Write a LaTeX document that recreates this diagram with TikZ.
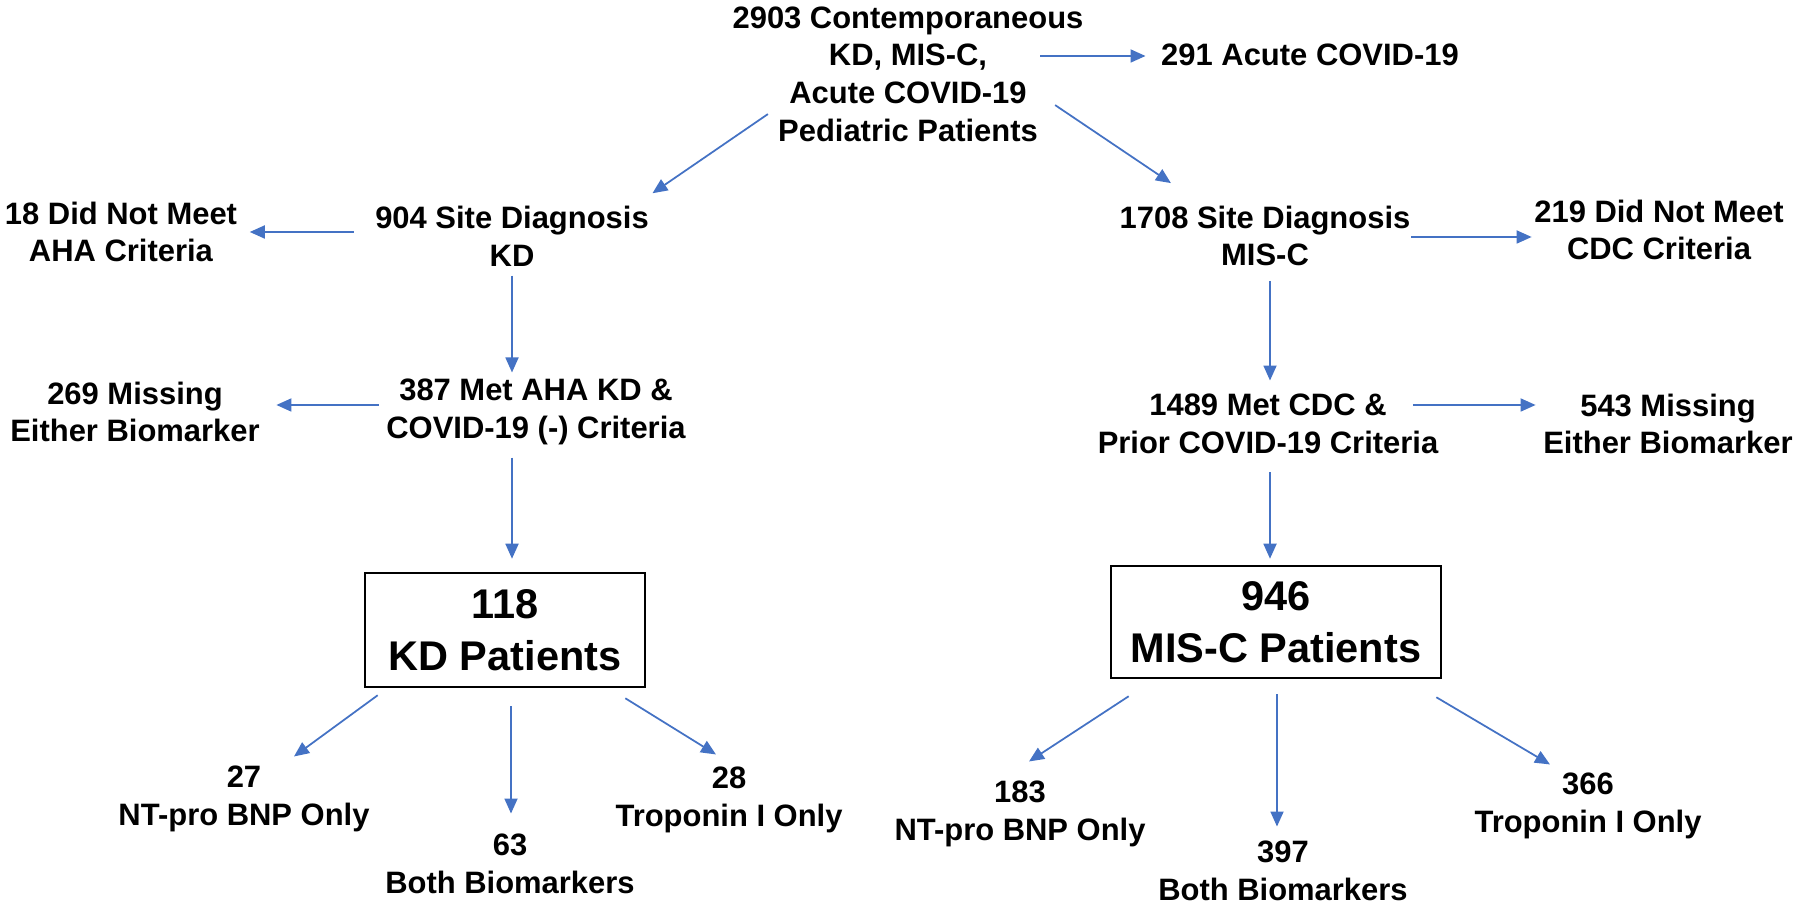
\documentclass[tikz,border=0pt]{standalone}
\usepackage{fontspec}
\setmainfont{Liberation Sans}
\usepackage{xcolor}
\usepackage{tikz}
\usetikzlibrary{arrows.meta}
\definecolor{arrblue}{RGB}{68,114,196}

\tikzset{
	txt/.style={align=center, inner sep=0pt, font=\bfseries\fontsize{8.8}{10.7}\selectfont},
	bigbox/.style={draw, line width=0.7pt, align=center, inner sep=0pt, font=\bfseries\fontsize{11.8}{14.8}\selectfont},
	arr/.style={draw=arrblue, line width=0.5pt, -{Triangle[length=0.15cm,width=0.13cm]}}
}

\begin{document}
\begin{tikzpicture}[x=0.01cm,y=-0.01cm]
	\useasboundingbox (0,0) rectangle (1800,907);
	
	% top
	\node[txt] (top) at (908,74) {2903 Contemporaneous\\KD, MIS-C,\\Acute COVID-19\\Pediatric Patients};
	\node[txt] (acute) at (1310,55) {291 Acute COVID-19};
	
	% KD branch
	\node[txt] (kd) at (512,236) {904 Site Diagnosis\\KD};
	\node[txt] (kdno) at (121,232) {18 Did Not Meet\\AHA Criteria};
	\node[txt] (kdmet) at (536,412) {387 Met AHA KD \&\\COVID-19 (-) Criteria};
	\node[txt] (kdmiss) at (135,412) {269 Missing\\Either Biomarker};
	\node[bigbox, minimum width=2.8cm, minimum height=1.14cm] (kdbox) at (505,630) {118\\KD Patients};
	\node[txt] (kdnt) at (244,799) {27\\NT-pro BNP Only};
	\node[txt] (kdboth) at (510,864) {63\\Both Biomarkers};
	\node[txt] (kdtro) at (729,800) {28\\Troponin I Only};
	
	% MIS-C branch
	\node[txt] (misc) at (1265,236) {1708 Site Diagnosis\\MIS-C};
	\node[txt] (misno) at (1659,230) {219 Did Not Meet\\CDC Criteria};
	\node[txt] (mismet) at (1268,424) {1489 Met CDC \&\\Prior COVID-19 Criteria};
	\node[txt] (mismiss) at (1668,424) {543 Missing\\Either Biomarker};
	\node[bigbox, minimum width=3.3cm, minimum height=1.12cm] (misbox) at (1276,622) {946\\MIS-C Patients};
	\node[txt] (misnt) at (1020,814) {183\\NT-pro BNP Only};
	\node[txt] (misboth) at (1283,871) {397\\Both Biomarkers};
	\node[txt] (mistro) at (1588,806) {366\\Troponin I Only};
	
	% arrows from the top
	\draw[arr] ([shift={(-44,-18)}]top.east) -- ([shift={(-15,1)}]acute.west);
	\draw[arr] ([shift={(36,-28)}]top.south west) -- ([shift={(3,-12)}]kd.north east);
	\draw[arr] ([shift={(-29,-37)}]top.south east) -- ([shift={(52,-22)}]misc.north west);
	
	% KD arrows
	\draw[arr] ([shift={(-21,-4)}]kd.west) -- ([shift={(12,0)}]kdno.east);
	\draw[arr] ([shift={(0,9)}]kd.south) -- ([shift={(-24,-6)}]kdmet.north);
	\draw[arr] ([shift={(-7,-7)}]kdmet.west) -- ([shift={(16,-7)}]kdmiss.east);
	\draw[arr] ([shift={(-24,12)}]kdmet.south) -- ([shift={(7,-13)}]kdbox.north);
	\draw[arr] ([shift={(14,7)}]kdbox.south west) -- ([shift={(50,-9)}]kdnt.north);
	\draw[arr] ([shift={(6,18)}]kdbox.south) -- ([shift={(1,-20)}]kdboth.north);
	\draw[arr] ([shift={(-21,10)}]kdbox.south east) -- ([shift={(-13,-12)}]kdtro.north);
	
	% MIS-C arrows
	\draw[arr] ([shift={(0,1)}]misc.east) -- ([shift={(-2,7)}]misno.west);
	\draw[arr] ([shift={(5,14)}]misc.south) -- ([shift={(2,-13)}]mismet.north);
	\draw[arr] ([shift={(-26,-19)}]mismet.east) -- ([shift={(-7,-19)}]mismiss.west);
	\draw[arr] ([shift={(2,18)}]mismet.south) -- ([shift={(-6,-6)}]misbox.north);
	\draw[arr] ([shift={(19,17)}]misbox.south west) -- ([shift={(9,-19)}]misnt.north);
	\draw[arr] ([shift={(1,15)}]misbox.south) -- ([shift={(-6,-14)}]misboth.north);
	\draw[arr] ([shift={(-6,18)}]misbox.south east) -- ([shift={(-38,-8)}]mistro.north);
\end{tikzpicture}
\end{document}
